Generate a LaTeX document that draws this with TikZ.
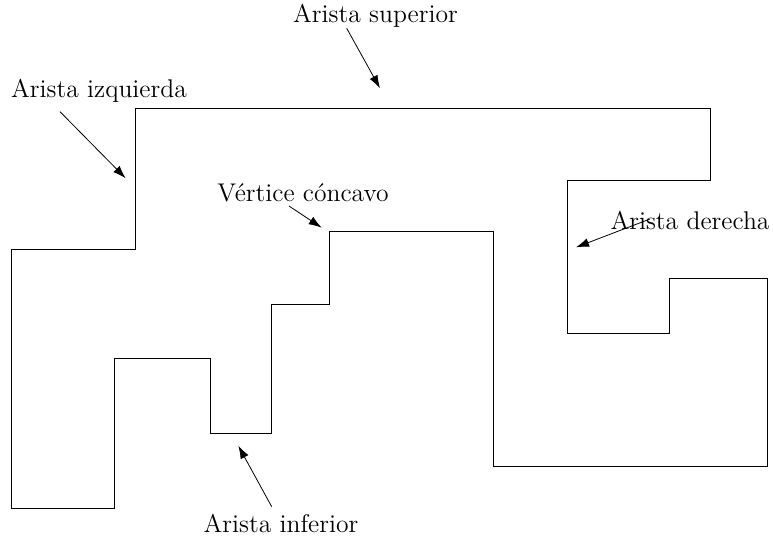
\documentclass[tikz,border=0pt]{standalone}
\usetikzlibrary{arrows.meta}
\begin{document}
\begin{tikzpicture}[x=0.5pt,y=-0.5pt,
  lbl/.style={inner sep=0pt,font=\fontsize{12.8}{15}\selectfont},
  pointer/.style={-{Latex[length=6.5pt,width=4.4pt]},line width=0.4pt},
  edge/.style={line width=0.5pt}]
\useasboundingbox (0,0) rectangle (773,540);
\draw[edge] (11,249.3) -- (135,249.3) -- (135,108.3) -- (710,108.3) -- (710,180.7)
  -- (567.3,180.7) -- (567.3,334) -- (669.3,334) -- (669.3,278.3) -- (767.3,278.3)
  -- (767.3,466.7) -- (493.3,466.7) -- (493.3,231.7) -- (329.3,231.7) -- (329.3,305)
  -- (271,305) -- (271,433.3) -- (210.7,433.3) -- (210.7,358.3) -- (114.7,358.3)
  -- (114.7,508.3) -- (11,508.3) -- cycle;
\node[lbl] (sup) at (375.5,16) {Arista superior};
\node[lbl] (izq) at (99,91) {Arista izquierda};
\node[lbl] (vc) at (303,193) {V\'ertice c\'oncavo};
\node[lbl] (der) at (690,220) {Arista derecha};
\node[lbl] (inf) at (281,523) {Arista inferior};
\coordinate (supS) at (346.7,28.3); \coordinate (supT) at (380,88.3);
\coordinate (izqS) at (60,111.7); \coordinate (izqT) at (125.7,178.3);
\coordinate (vcS) at (289,206); \coordinate (vcT) at (321.7,227.7);
\coordinate (derS) at (650,219); \coordinate (derT) at (576,247.3);
\coordinate (infS) at (271.7,506.7); \coordinate (infT) at (238.3,445.7);
\draw[pointer] (supS) -- (supT);
\draw[pointer] (izqS) -- (izqT);
\draw[pointer] (vcS) -- (vcT);
\draw[pointer] (derS) -- (derT);
\draw[pointer] (infS) -- (infT);
\end{tikzpicture}
\end{document}
